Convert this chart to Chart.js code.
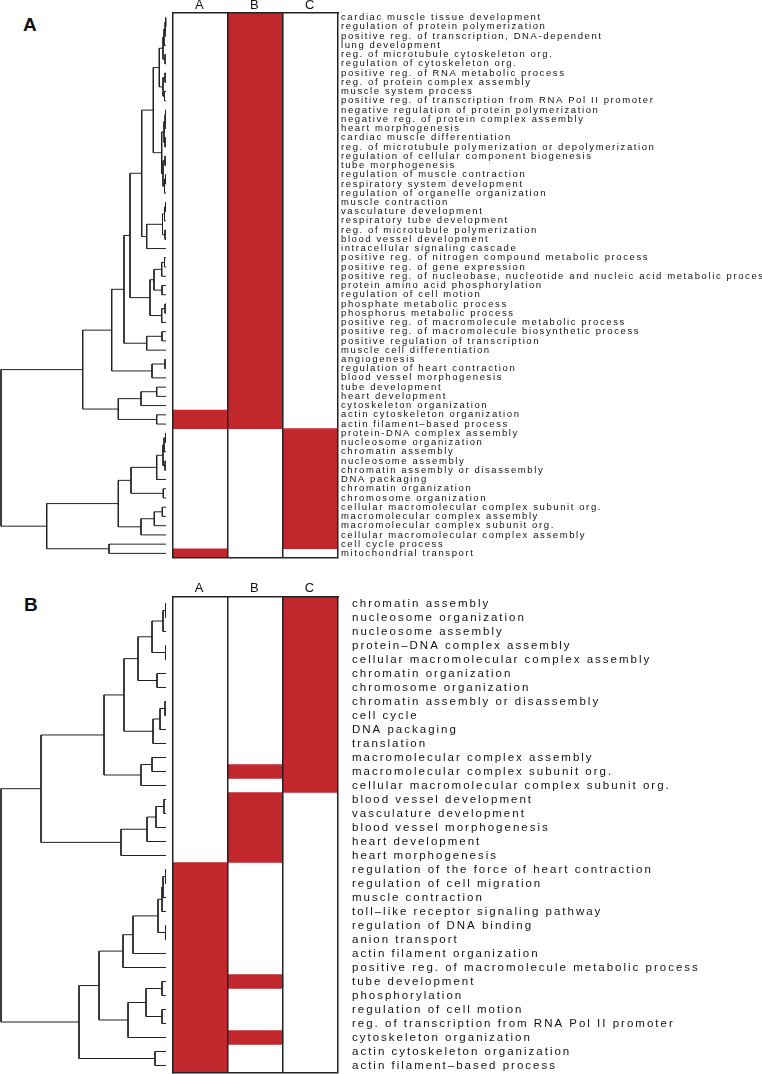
<!DOCTYPE html>
<html><head><meta charset="utf-8">
<script src="https://cdn.jsdelivr.net/npm/chart.js@4.4.1/dist/chart.umd.min.js"></script>
<style>
html,body{margin:0;padding:0;background:#fff;width:762px;height:1074px;overflow:hidden;position:relative;}
canvas{position:absolute;}
.pl{position:absolute;font-family:"Liberation Sans",Arial,sans-serif;font-weight:bold;font-size:19px;line-height:19px;color:#111;}
</style></head><body>
<div class="pl" style="left:23px;top:15px">A</div>
<div class="pl" style="left:24px;top:595px">B</div>
<canvas id="dA" width="170" height="570" style="left:0;top:0"></canvas>
<canvas id="hA" width="602" height="570" style="left:160px;top:0"></canvas>
<canvas id="dB" width="170" height="494" style="left:0;top:580px"></canvas>
<canvas id="hB" width="602" height="494" style="left:160px;top:580px"></canvas>
<script>
// ---------- DATA ----------
const columns = ['A', 'B', 'C'];

const termsA = [
"cardiac muscle tissue development","regulation of protein polymerization","positive reg. of transcription, DNA-dependent","lung development","reg. of microtubule cytoskeleton org.","regulation of cytoskeleton org.","positive reg. of RNA metabolic process","reg. of protein complex assembly","muscle system process","positive reg. of transcription from RNA Pol II promoter",
"negative regulation of protein polymerization","negative reg. of protein complex assembly","heart morphogenesis","cardiac muscle differentiation","reg. of microtubule polymerization or depolymerization","regulation of cellular component biogenesis","tube morphogenesis","regulation of muscle contraction","respiratory system development","regulation of organelle organization",
"muscle contraction","vasculature development","respiratory tube development","reg. of microtubule polymerization","blood vessel development","intracellular signaling cascade","positive reg. of nitrogen compound metabolic process","positive reg. of gene expression","positive reg. of nucleobase, nucleotide and nucleic acid metabolic process","protein amino acid phosphorylation",
"regulation of cell motion","phosphate metabolic process","phosphorus metabolic process","positive reg. of macromolecule metabolic process","positive reg. of macromolecule biosynthetic process","positive regulation of transcription","muscle cell differentiation","angiogenesis","regulation of heart contraction","blood vessel morphogenesis",
"tube development","heart development","cytoskeleton organization","actin cytoskeleton organization","actin filament\u2013based process","protein-DNA complex assembly","nucleosome organization","chromatin assembly","nucleosome assembly","chromatin assembly or disassembly",
"DNA packaging","chromatin organization","chromosome organization","cellular macromolecular complex subunit org.","macromolecular complex assembly","macromolecular complex subunit org.","cellular macromolecular complex assembly","cell cycle process","mitochondrial transport"
];
// 1 = enriched (red), per column A, B, C
const hitsA_A = [
0,0,0,0,0,0,0,0,0,0,
0,0,0,0,0,0,0,0,0,0,
0,0,0,0,0,0,0,0,0,0,
0,0,0,0,0,0,0,0,0,0,
0,0,0,1,1,0,0,0,0,0,
0,0,0,0,0,0,0,0,1];
const hitsA_B = [
1,1,1,1,1,1,1,1,1,1,
1,1,1,1,1,1,1,1,1,1,
1,1,1,1,1,1,1,1,1,1,
1,1,1,1,1,1,1,1,1,1,
1,1,1,1,1,0,0,0,0,0,
0,0,0,0,0,0,0,0,0];
const hitsA_C = [
0,0,0,0,0,0,0,0,0,0,
0,0,0,0,0,0,0,0,0,0,
0,0,0,0,0,0,0,0,0,0,
0,0,0,0,0,0,0,0,0,0,
0,0,0,0,0,1,1,1,1,1,
1,1,1,1,1,1,1,1,0];
// dendrogram merges [left, right, height]; negative = leaf (-(row+1)), positive = earlier merge step
const mergesA = [
[-1,-2,0.3],[1,-3,1],[2,-4,2],[-5,-6,1],[3,4,3],[-7,-8,1],[-9,-10,1.5],[6,7,3],[5,8,6.7],
[-11,-12,0.5],[10,-13,1],[-14,-15,1],[11,12,2],[-16,-17,1],[-18,-19,0.5],[15,-20,1.5],[14,16,3],[13,17,4.3],
[9,18,12.7],[-21,-22,0.5],[20,-23,1.5],[-24,-25,1],[21,22,3.5],[23,-26,19.3],[19,24,24.3],
[-27,-28,1.5],[26,-29,4.3],[-30,-31,4],[27,28,12],[-32,-33,1],[30,-34,4.3],[29,31,16],[25,32,36],
[-35,-36,4],[34,-37,19.3],[33,35,42],[-38,-39,1],[37,-40,14],[36,38,54.3],
[-41,-42,9.3],[40,-43,25],[-44,-45,9.3],[41,42,47.7],[39,43,83.3],
[-46,-47,0.5],[45,-48,2],[-49,-50,1],[46,47,3],[48,-51,9.3],[-52,-53,2.7],[49,50,35],
[-54,-55,3.7],[52,-56,11.7],[53,-57,25],[51,54,47.7],[-58,-59,57],[55,56,119.3],[44,57,165]
];

const termsB = [
"chromatin assembly","nucleosome organization","nucleosome assembly","protein\u2013DNA complex assembly","cellular macromolecular complex assembly","chromatin organization","chromosome organization","chromatin assembly or disassembly","cell cycle","DNA packaging",
"translation","macromolecular complex assembly","macromolecular complex subunit org.","cellular macromolecular complex subunit org.","blood vessel development","vasculature development","blood vessel morphogenesis","heart development","heart morphogenesis","regulation of the force of heart contraction",
"regulation of cell migration","muscle contraction","toll\u2013like receptor signaling pathway","regulation of DNA binding","anion transport","actin filament organization","positive reg. of macromolecule metabolic process","tube development","phosphorylation","regulation of cell motion",
"reg. of transcription from RNA Pol II promoter","cytoskeleton organization","actin cytoskeleton organization","actin filament\u2013based process"
];
const hitsB_A = [
0,0,0,0,0,0,0,0,0,0,
0,0,0,0,0,0,0,0,0,1,
1,1,1,1,1,1,1,1,1,1,
1,1,1,1];
const hitsB_B = [
0,0,0,0,0,0,0,0,0,0,
0,0,1,0,1,1,1,1,1,0,
0,0,0,0,0,0,0,1,0,0,
0,1,0,0];
const hitsB_C = [
1,1,1,1,1,1,1,1,1,1,
1,1,1,1,0,0,0,0,0,0,
0,0,0,0,0,0,0,0,0,0,
0,0,0,0];
const mergesB = [
[-1,-2,0.5],[1,-3,3],[-4,-5,0.5],[2,3,14],[-6,-7,9],[4,5,28],[-8,-9,1],[7,-10,6],[8,-11,13],[6,9,42],
[-12,-13,14],[11,-14,25],[10,12,62],[-15,-16,2],[14,-17,10],[15,-18,19],[16,-19,45],[13,17,125],
[-20,-21,0.5],[19,-22,3],[20,-23,4],[-24,-25,0.5],[21,22,8],[23,-26,33],[24,-27,43],
[-28,-29,4],[-30,-31,4],[26,27,20],[28,-32,38],[25,29,67],[-33,-34,11],[30,31,87],[18,32,165]
];

// ---------- STYLE ----------
const RED = '#c1272d';
const LINE = '#222222';
const FONT = '"Liberation Sans", Arial, Helvetica, sans-serif';

function dendroDatasets(merges) {
  const pos = [], hgt = [], ds = [];
  const coord = k => k < 0 ? {y: -k - 1, h: 0} : {y: pos[k - 1], h: hgt[k - 1]};
  merges.forEach(([a, b, h]) => {
    const ca = coord(a), cb = coord(b);
    ds.push({
      data: [{x: ca.h, y: ca.y}, {x: h, y: ca.y}, {x: h, y: cb.y}, {x: cb.h, y: cb.y}],
      showLine: true, borderColor: LINE, borderWidth: 1, pointRadius: 0,
      fill: false, tension: 0, clip: false
    });
    pos.push((ca.y + cb.y) / 2);
    hgt.push(h);
  });
  return {ds, maxH: Math.max(...hgt)};
}

function makeDendro(id, merges, nLeaves, padTop, padBottom) {
  const {ds, maxH} = dendroDatasets(merges);
  new Chart(document.getElementById(id), {
    type: 'scatter',
    data: {datasets: ds},
    options: {
      responsive: false, animation: false, devicePixelRatio: 1, events: [],
      layout: {padding: {left: 1, right: 4, top: padTop, bottom: padBottom}},
      plugins: {legend: {display: false}, tooltip: {enabled: false}},
      scales: {
        x: {type: 'linear', display: false, reverse: true, min: 0, max: maxH},
        y: {type: 'linear', display: false, reverse: true, min: -0.5, max: nLeaves - 0.5}
      }
    }
  });
}

function blocksFrom(cols) {
  const out = [];
  cols.forEach((hits, c) => {
    let start = -1;
    for (let i = 0; i <= hits.length; i++) {
      const v = i < hits.length ? hits[i] : 0;
      if (v && start < 0) start = i;
      if (!v && start >= 0) { out.push({x: c + 0.5, y: [start, i]}); start = -1; }
    }
  });
  return out;
}

const noPad = s => { s.paddingTop = 0; s.paddingBottom = 0; s.paddingLeft = 0; s.paddingRight = 0; };

function makeHeat(id, terms, cols, opt) {
  const n = terms.length;
  const spacing = opt.spacing;
  new Chart(document.getElementById(id), {
    type: 'bar',
    data: {datasets: [{
      data: blocksFrom(cols), backgroundColor: RED, borderWidth: 0,
      barPercentage: 1, categoryPercentage: 1, xAxisID: 'x', yAxisID: 'y'
    }]},
    options: {
      responsive: false, animation: false, devicePixelRatio: 1, events: [],
      indexAxis: 'x',
      layout: {padding: {left: 12.5, right: 0, top: 0, bottom: opt.padBottom}},
      plugins: {legend: {display: false}, tooltip: {enabled: false}},
      scales: {
        x: {
          type: 'linear', position: 'top', min: 0, max: columns.length, offset: false,
          afterBuildTicks: s => { s.ticks = columns.map((c, i) => ({value: i + 0.5})); },
          afterFit: s => { s.height = opt.topH; noPad(s); },
          ticks: {callback: (v, i) => columns[i], font: {family: FONT, size: 13}, color: '#111',
                  padding: 0, autoSkip: false, maxRotation: 0},
          grid: {display: false, drawTicks: false, offset: false},
          border: {display: true, color: LINE, width: 1.5, z: 2}
        },
        xg: {
          type: 'linear', position: 'bottom', min: 0, max: columns.length, offset: false,
          afterBuildTicks: s => { s.ticks = columns.map((c, i) => ({value: i})).concat([{value: columns.length}]); },
          afterFit: s => { noPad(s); },
          ticks: {display: false},
          grid: {display: true, color: LINE, lineWidth: 1.5, drawTicks: false, offset: false, z: 2},
          border: {display: true, color: LINE, width: 1.5, z: 2}
        },
        y: {type: 'linear', display: false, reverse: true, min: 0, max: n},
        yl: {
          type: 'linear', position: 'right', reverse: true, min: 0, max: n,
          afterBuildTicks: s => { s.ticks = terms.map((t, i) => ({value: i + 0.5})); },
          afterFit: s => { s.width = 424; noPad(s); },
          ticks: {autoSkip: false, callback: (v, i) => terms[i], font: {family: FONT, size: opt.fontSize},
                  color: '#111', padding: opt.labelPad, crossAlign: 'near'},
          grid: {display: false, drawTicks: false},
          border: {display: false}
        }
      }
    },
    plugins: [{id: 'spacing', beforeDraw(chart) { chart.ctx.letterSpacing = spacing; }}]
  });
}

makeDendro('dA', mergesA, termsA.length, 13, 12);
makeHeat('hA', termsA, [hitsA_A, hitsA_B, hitsA_C], {padBottom: 12, topH: 13, fontSize: 9.5, labelPad: 3, spacing: '1.6px'});
makeDendro('dB', mergesB, termsB.length, 16.5, 1.5);
makeHeat('hB', termsB, [hitsB_A, hitsB_B, hitsB_C], {padBottom: 1.5, topH: 16.5, fontSize: 11.5, labelPad: 14, spacing: '2px'});
</script>
</body></html>
